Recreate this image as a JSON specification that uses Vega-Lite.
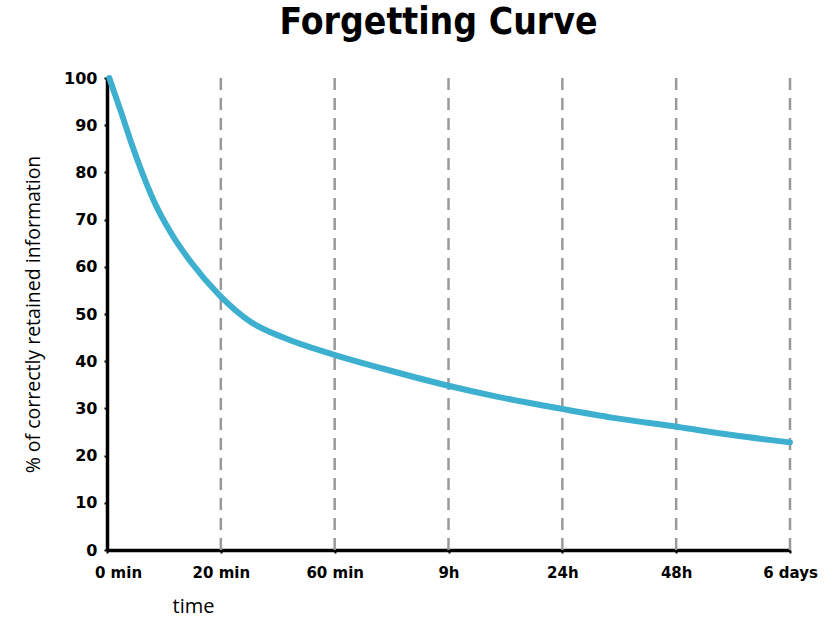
{
  "$schema": "https://vega.github.io/schema/vega-lite/v6.json",
  "autosize": "none",
  "width": 683,
  "height": 472,
  "padding": {"left": 107, "top": 78, "right": 50, "bottom": 67},
  "background": "white",
  "title": {
    "text": "Forgetting Curve",
    "font": "DejaVu Sans Condensed",
    "fontWeight": "bold",
    "fontSize": 37,
    "color": "black",
    "anchor": "middle",
    "dx": -10,
    "offset": 24
  },
  "config": {"view": {"stroke": null}},
  "datasets": {
    "curve": [
      {"t": 0.02, "pct": 100},
      {"t": 0.129, "pct": 92.4},
      {"t": 0.217, "pct": 86.0},
      {"t": 0.305, "pct": 80.2},
      {"t": 0.422, "pct": 73.4},
      {"t": 0.569, "pct": 66.9},
      {"t": 0.744, "pct": 60.8},
      {"t": 0.987, "pct": 54.0},
      {"t": 1.257, "pct": 48.4},
      {"t": 1.549, "pct": 45.0},
      {"t": 1.989, "pct": 41.4},
      {"t": 2.428, "pct": 38.4},
      {"t": 2.999, "pct": 34.8},
      {"t": 3.424, "pct": 32.5},
      {"t": 3.996, "pct": 29.9},
      {"t": 4.449, "pct": 28.0},
      {"t": 5.006, "pct": 26.1},
      {"t": 5.475, "pct": 24.4},
      {"t": 6.0, "pct": 22.8}
    ],
    "marks": [
      {"t": 1}, {"t": 2}, {"t": 3}, {"t": 4}, {"t": 5}, {"t": 6}
    ]
  },
  "layer": [
    {
      "data": {"name": "marks"},
      "mark": {"type": "rule", "color": "#999999", "strokeWidth": 2.5, "strokeDash": [12, 8], "clip": false},
      "encoding": {
        "x": {"field": "t", "type": "quantitative"},
        "y": {"datum": 0},
        "y2": {"datum": 101.7}
      }
    },
    {
      "data": {"name": "curve"},
      "mark": {"type": "line", "color": "#3db0cf", "strokeWidth": 6, "strokeCap": "round", "interpolate": "monotone"},
      "encoding": {
        "x": {
          "field": "t",
          "type": "quantitative",
          "scale": {"domain": [0, 6], "nice": false, "zero": false},
          "axis": {
            "values": [0, 1, 2, 3, 4, 5, 6],
            "labelExpr": "['0 min','20 min','60 min','9h','24h','48h','6 days'][datum.value]",
            "labelFlush": false,
            "labelOffset": {"expr": "datum.value == 0 ? 11 : 0"},
            "title": "time",
            "titleFont": "Open Sans",
            "titleFontWeight": "normal",
            "titleFontSize": 20,
            "titleColor": "black",
            "titleAnchor": "start",
            "titleAlign": "center",
            "titleBaseline": "middle",
            "titleX": 86,
            "titleY": 56,
            "labelFont": "DejaVu Sans",
            "labelFontWeight": "bold",
            "labelFontSize": 15,
            "labelColor": "black",
            "labelPadding": 12,
            "labelBaseline": "top",
            "domainColor": "black",
            "domainWidth": 3.5,
            "tickColor": "black",
            "tickSize": 3,
            "tickWidth": 2,
            "grid": false
          }
        },
        "y": {
          "field": "pct",
          "type": "quantitative",
          "scale": {"domain": [0, 100], "nice": false},
          "axis": {
            "values": [0, 10, 20, 30, 40, 50, 60, 70, 80, 90, 100],
            "title": "% of correctly retained information",
            "titleFont": "Open Sans",
            "titleFontWeight": "normal",
            "titleFontSize": 19.5,
            "titleColor": "black",
            "titlePadding": 20,
            "labelFont": "DejaVu Sans",
            "labelFontWeight": "bold",
            "labelFontSize": 16,
            "labelColor": "black",
            "labelPadding": 7,
            "domainColor": "black",
            "domainWidth": 3.5,
            "tickColor": "black",
            "tickSize": 3,
            "tickWidth": 2,
            "grid": false
          }
        }
      }
    }
  ]
}
